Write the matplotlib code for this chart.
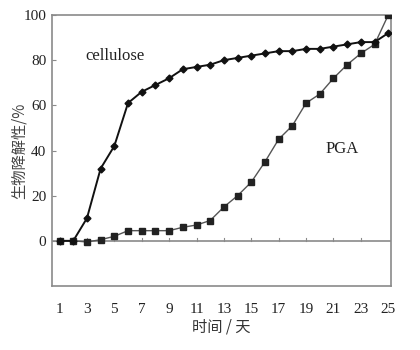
import matplotlib
matplotlib.use("Agg")
import matplotlib.pyplot as plt

days = list(range(1, 26))
cellulose = [0, 0, 10, 32, 42, 61, 66, 69, 72, 76, 77, 78, 80, 81, 82, 83, 84, 84, 85, 85, 86, 87, 88, 88, 92]
pga = [0, 0, -0.5, 0.5, 2, 4.5, 4.5, 4.5, 4.5, 6, 7, 9, 15, 20, 26, 35, 45, 51, 61, 65, 72, 78, 83, 87, 100]
xtick_labels = [1, 3, 5, 7, 9, 11, 13, 15, 17, 19, 21, 23, 25]
yticks = [0, 20, 40, 60, 80, 100]

serif = ['Liberation Serif', 'DejaVu Serif']
cjk = ['Noto Sans CJK SC', 'DejaVu Sans']

fig = plt.figure(figsize=(4.2, 3.5), dpi=100)
ax = fig.add_axes([52/420, 1-286/350, (391-52)/420, (286-15)/350])
frame_c = '#8a8a8a'
for s in ax.spines.values():
    s.set_color(frame_c)
    s.set_linewidth(1.2)

ax.plot(days, pga, color='#555555', lw=1.0, marker='s', ms=4, mfc='#222222', mec='#222222', zorder=3)
ax.plot(days, cellulose, color='#111111', lw=1.4, marker='D', ms=3.5, mfc='#111111', mec='#111111', zorder=4)

ax.axhline(0, color=frame_c, lw=1.2, zorder=2)
for d in xtick_labels[1:-1]:
    ax.plot([d, d], [0, 1.2], color=frame_c, lw=0.8, zorder=2)

ax.set_xlim(0.45, 25.2)
ax.set_ylim(-20, 100)
ax.set_yticks(yticks)
ax.set_yticklabels([str(v) for v in yticks], family=serif, fontsize=11, color='#222222')
ax.tick_params(axis='y', direction='in', length=3, color=frame_c, pad=4)
ax.set_xticks(xtick_labels)
ax.set_xticklabels([str(v) for v in xtick_labels], family=serif, fontsize=11, color='#222222')
ax.tick_params(axis='x', length=0, pad=12)

ax.text(2.9, 82, 'cellulose', family=serif, fontsize=12, color='#222222', va='center', ha='left')
ax.text(21.6, 40.5, 'PGA', family=serif, fontsize=12, color='#222222', va='center', ha='center')

ax.set_ylabel('生物降解性/%', family=cjk, fontsize=11, color='#444444')
ax.yaxis.set_label_coords(-0.072, 0.5)
ax.set_xlabel('时间 / 天', family=cjk, fontsize=11, color='#333333', labelpad=2)

fig.savefig('out.png', dpi=100)
